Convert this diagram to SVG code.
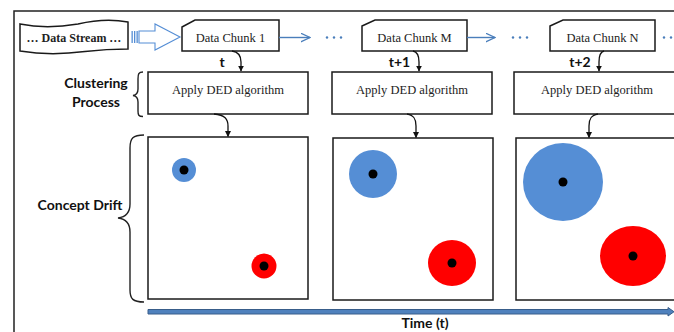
<svg xmlns="http://www.w3.org/2000/svg" width="674" height="332" viewBox="0 0 674 332">
<defs>
<style>
.frame{fill:none;stroke:#222;stroke-width:1.5}
.box{fill:#fff;stroke:#1a1a1a;stroke-width:1.5}
.serif{font-family:"Liberation Serif","Times New Roman",serif;font-size:12.5px;fill:#222}
.bold{font-family:Lato,"Open Sans","Liberation Sans",sans-serif;font-weight:bold;font-size:14px;fill:#111}
.curve{fill:none;stroke:#111;stroke-width:1.3}
.blue{stroke:#4A7EBB;stroke-width:1.4;fill:none}
.dot{fill:#4A7EBB}
.brace{fill:none;stroke:#222;stroke-width:1.4}
</style>
<marker id="ah" viewBox="0 0 10 10" refX="9" refY="5" markerWidth="6" markerHeight="6" orient="auto" markerUnits="userSpaceOnUse">
<path d="M0,0 L10,5 L0,10 Z" fill="#111"/>
</marker>
<marker id="bh" viewBox="0 0 10 10" refX="9.5" refY="5" markerWidth="10" markerHeight="10" orient="auto" markerUnits="userSpaceOnUse">
<path d="M0,0.5 L9.5,5 L0,9.5" fill="none" stroke="#4A7EBB" stroke-width="1.2"/>
</marker>
</defs>
<rect width="674" height="332" fill="#fff"/>
<path class="frame" d="M14,332 L14,11 L676,11"/>

<g id="data-stream">
<path d="M20,24 C40,28 60,27 78,24 C95,20 112,19 128,22 L128,49 C112,49 98,50 85,51.5 C62,54.5 38,54 20,51 Z" fill="#fff" stroke="#1a1a1a" stroke-width="1.5"/>
<text x="74" y="41.5" text-anchor="middle" font-family="'Liberation Serif','Times New Roman',serif" font-weight="bold" font-size="12" fill="#222">… Data Stream …</text>
</g>

<g id="stream-arrow">
<rect x="131.5" y="31" width="1.3" height="12" fill="#558ED5"/>
<rect x="134" y="31" width="1.3" height="12" fill="#558ED5"/>
<rect x="136.5" y="31" width="1.3" height="12" fill="#558ED5"/>
<path d="M139,31 L155,31 L155,24 L180,37 L155,50 L155,43 L139,43 Z" fill="#fff" stroke="#558ED5" stroke-width="1.1"/>
</g>

<g id="chunk-1">
<path class="box" d="M182,27 L195,20 L279,20 L279,51 L182,51 Z"/>
<text class="serif" x="230.5" y="41.5" text-anchor="middle">Data Chunk 1</text>
</g>
<g id="chunk-m">
<path class="box" d="M362,26 L375,20 L467,20 L467,51 L362,51 Z"/>
<text class="serif" x="414.5" y="41.5" text-anchor="middle">Data Chunk M</text>
</g>
<g id="chunk-n">
<path class="box" d="M550,26 L563,20 L655,20 L655,51 L550,51 Z"/>
<text class="serif" x="602.5" y="41.5" text-anchor="middle">Data Chunk N</text>
</g>

<g id="ded-1">
<rect class="box" x="148" y="72" width="160" height="42"/>
<text class="serif" x="228" y="94" text-anchor="middle">Apply DED algorithm</text>
</g>
<g id="ded-2">
<rect class="box" x="332" y="72" width="160" height="42"/>
<text class="serif" x="412" y="94" text-anchor="middle">Apply DED algorithm</text>
</g>
<g id="ded-3">
<rect class="box" x="514" y="72" width="170" height="42"/>
<text class="serif" x="597" y="94" text-anchor="middle">Apply DED algorithm</text>
</g>

<g id="label-clustering">
<text class="bold" x="96" y="88" text-anchor="middle">Clustering</text>
<text class="bold" x="96" y="107" text-anchor="middle">Process</text>
<path class="brace" d="M143,72 C138.5,72 138,74 138,79 L138,89 C138,93 136.5,95 133,95.5 C136.5,96 138,98 138,102 L138,111 C138,115 138.5,116.5 143,116.5"/>
</g>

<g id="label-concept">
<text class="bold" x="80" y="210" text-anchor="middle">Concept Drift</text>
<path class="brace" d="M144,135 C133,135 130,138 130,148 L130,204 C130,213 126,217 118,218 C126,219 130,223 130,232 L130,290 C130,299 133,302 144,302"/>
</g>

<g id="drift-1">
<rect class="box" x="148" y="137" width="160" height="162"/>
<circle cx="184" cy="170" r="12" fill="#558ED5"/>
<circle cx="184" cy="170" r="4.5" fill="#000"/>
<circle cx="264" cy="266" r="12.5" fill="#FF0000"/>
<circle cx="264" cy="266" r="4.5" fill="#000"/>
</g>
<g id="drift-2">
<rect class="box" x="333" y="138" width="160" height="162"/>
<circle cx="373" cy="174" r="24" fill="#558ED5"/>
<circle cx="373" cy="174" r="4.5" fill="#000"/>
<ellipse cx="452" cy="263" rx="24" ry="23" fill="#FF0000"/>
<circle cx="452" cy="263" r="4.5" fill="#000"/>
</g>
<g id="drift-3">
<rect class="box" x="516" y="138" width="170" height="162"/>
<ellipse cx="563" cy="182" rx="40" ry="39" fill="#558ED5"/>
<circle cx="563" cy="182" r="4.5" fill="#000"/>
<ellipse cx="633" cy="256" rx="33" ry="30" fill="#FF0000"/>
<circle cx="633" cy="256" r="4.5" fill="#000"/>
</g>

<g id="connectors">
<line class="blue" x1="279" y1="37.5" x2="310" y2="37.5" marker-end="url(#bh)"/>
<line class="blue" x1="467" y1="37.5" x2="495" y2="37.5" marker-end="url(#bh)"/>
<circle class="dot" cx="327" cy="37.5" r="1.2"/>
<circle class="dot" cx="334" cy="37.5" r="1.2"/>
<circle class="dot" cx="341" cy="37.5" r="1.2"/>
<circle class="dot" cx="513" cy="37.5" r="1.2"/>
<circle class="dot" cx="520" cy="37.5" r="1.2"/>
<circle class="dot" cx="527" cy="37.5" r="1.2"/>
<circle class="dot" cx="664" cy="37.5" r="1.2"/>
<circle class="dot" cx="671" cy="37.5" r="1.2"/>

<path class="curve" d="M232,51 C239,52 241,56 241,62 L241,71" marker-end="url(#ah)"/>
<path class="curve" d="M413,51 C418,52 419,56 419,62 L419,71" marker-end="url(#ah)"/>
<path class="curve" d="M604,51 C600,52 599,56 599,62 L599,71" marker-end="url(#ah)"/>
<text class="bold" x="222" y="67" text-anchor="middle">t</text>
<text class="bold" x="399.5" y="67" text-anchor="middle">t+1</text>
<text class="bold" x="580" y="67" text-anchor="middle">t+2</text>

<path class="curve" d="M214,114 C225,115 228,119 228,126 L228,136.5" marker-end="url(#ah)"/>
<path class="curve" d="M407,114 C414,115 416,119 416,126 L416,137.5" marker-end="url(#ah)"/>
<path class="curve" d="M598,114 C591,115 589,119 589,126 L589,137.5" marker-end="url(#ah)"/>

<path d="M148,309.5 L668,309.5 L668,307.5 L674,311.75 L668,316 L668,314 L148,314 Z" fill="#4F81BD" stroke="#385D8A" stroke-width="1"/>
</g>

<g id="label-time">
<text class="bold" x="425" y="328" text-anchor="middle">Time (t)</text>
</g>
</svg>
